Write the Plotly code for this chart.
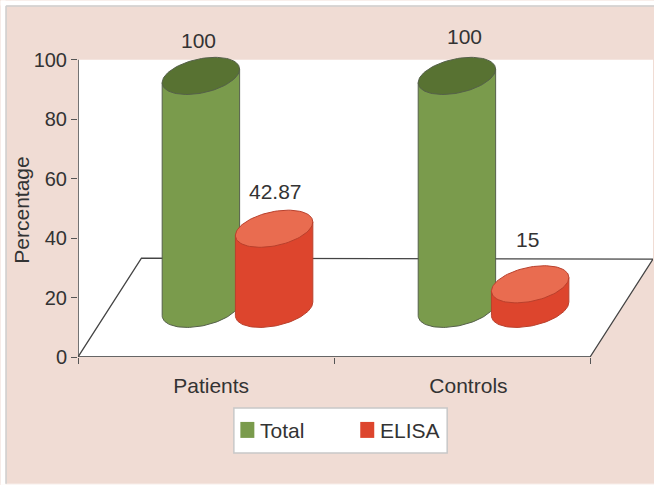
import numpy as np
import plotly.graph_objects as go

# Chart data
categories = ["Patients", "Controls"]
total = [100, 100]
elisa = [42.87, 15]
y_ticks = [0, 20, 40, 60, 80, 100]
series_names = ["Total", "ELISA"]

# Canvas and plot box, in pixels
W, H = 654, 485
LEFT, RIGHT, TOP, BOTTOM = 77.5, 653.0, 59.5, 357.0
PX_PER_X = 256.25                # one category slot along the front edge
PX_PER_Y = (BOTTOM - TOP) / 100  # one percentage point
HEADROOM = 5                     # axis units kept above 100 for the cylinder lids
PLOT_TOP = TOP - HEADROOM * PX_PER_Y

PINK = "#f0dcd4"
TEXT = "#333333"
FONT = "Liberation Sans"
GREEN, GREEN_TOP, GREEN_EDGE = "#7a9b4c", "#587232", "#55604a"
RED, RED_TOP, RED_EDGE = "#dd452d", "#e96c50", "#b9402c"

# Oblique projection of the cylinders, in axis units
HALF_W = 38.75 / PX_PER_X
ELL_B = 17.3 / PX_PER_Y
ELL_K = 6.8 / PX_PER_Y
FLOOR_LEVEL = 16.2
OFFSET = {"Total": 0.48, "ELISA": 0.766}
PROJECT = {"Total": (0.0, 0.784), "ELISA": (14.4, 0.671)}  # intercept, slope
STYLE = {"Total": (GREEN, GREEN_TOP, GREEN_EDGE), "ELISA": (RED, RED_TOP, RED_EDGE)}


def px_x(px):
    return (px - LEFT) / (RIGHT - LEFT)


def px_y(py):
    return (BOTTOM - py) / (BOTTOM - PLOT_TOP)


def ellipse(cx, cy, t):
    return cx + HALF_W * np.cos(t), cy + ELL_K * np.cos(t) + ELL_B * np.sin(t)


def top_level(name, value):
    intercept, slope = PROJECT[name]
    if intercept:
        return intercept + slope * value
    return FLOOR_LEVEL + slope * value


def add_cylinder(fig, name, slot, value):
    body, lid, edge = STYLE[name]
    cx = slot + OFFSET[name]
    cy = top_level(name, value)
    # front half of the base ellipse, right extreme round to the left one
    bx, by = ellipse(cx, FLOOR_LEVEL, np.linspace(0, -np.pi, 60))
    tx, ty = ellipse(cx, cy, np.array([-np.pi, 0.0]))
    fig.add_trace(go.Scatter(
        x=np.concatenate([bx, tx, bx[:1]]), y=np.concatenate([by, ty, by[:1]]),
        mode="lines", fill="toself", fillcolor=body, line=dict(color=edge, width=1),
        showlegend=False, hoverinfo="skip"))
    ex, ey = ellipse(cx, cy, np.linspace(0, 2 * np.pi, 90))
    fig.add_trace(go.Scatter(
        x=ex, y=ey, mode="lines", fill="toself", fillcolor=lid,
        line=dict(color=edge, width=1),
        showlegend=False, hoverinfo="skip"))


fig = go.Figure()

x_end = (RIGHT - LEFT) / PX_PER_X
back_x = (141 - LEFT) / PX_PER_X
back_y = (BOTTOM - 258) / PX_PER_Y
back_y_right = (BOTTOM - 259) / PX_PER_Y

# Pink wedge outside the slanted right edge of the floor
fig.add_trace(go.Scatter(
    x=[2, x_end, x_end, 2], y=[0, back_y_right, 0, 0], mode="lines", fill="toself",
    fillcolor=PINK, line=dict(width=0), showlegend=False, hoverinfo="skip"))

# Floor outline, front edge and value axis line
fig.add_trace(go.Scatter(
    x=[0, back_x, x_end, 2], y=[0, back_y, back_y_right, 0], mode="lines",
    line=dict(color="#444444", width=1.3), showlegend=False, hoverinfo="skip"))
fig.add_trace(go.Scatter(
    x=[0, 2], y=[0, 0], mode="lines", line=dict(color="#666666", width=1.8),
    showlegend=False, hoverinfo="skip", cliponaxis=False))
fig.add_trace(go.Scatter(
    x=[0, 0], y=[0, 100], mode="lines", line=dict(color="#444444", width=1.5),
    showlegend=False, hoverinfo="skip", cliponaxis=False))

for slot in range(len(categories)):
    add_cylinder(fig, "Total", slot, total[slot])
    add_cylinder(fig, "ELISA", slot, elisa[slot])

# Value labels above each cylinder
label_shift = {("Total", 0): (-2, 35), ("Total", 1): (8, 39),
               ("ELISA", 0): (1, 37), ("ELISA", 1): (-3, 45)}
annotations = []
for name, values in (("Total", total), ("ELISA", elisa)):
    for slot, value in enumerate(values):
        dx, dy = label_shift[(name, slot)]
        annotations.append(dict(
            x=slot + OFFSET[name], y=top_level(name, value), xref="x", yref="y",
            text=str(value), showarrow=False, xshift=dx, yshift=dy,
            font=dict(family=FONT, size=21, color=TEXT)))

# Value axis title
annotations.append(dict(
    x=px_x(21), y=px_y(210), xref="paper", yref="paper", text="Percentage",
    textangle=-90, xanchor="center", yanchor="middle", showarrow=False,
    font=dict(family=FONT, size=21, color=TEXT)))

shapes = [
    # white page margin and its thin grey frame
    dict(type="rect", xref="paper", yref="paper", x0=px_x(0), x1=px_x(W),
         y0=px_y(0), y1=px_y(5), fillcolor="white", line=dict(width=0), layer="below"),
    dict(type="rect", xref="paper", yref="paper", x0=px_x(0), x1=px_x(5),
         y0=px_y(0), y1=px_y(H), fillcolor="white", line=dict(width=0), layer="below"),
    dict(type="rect", xref="paper", yref="paper", x0=px_x(0), x1=px_x(W),
         y0=px_y(484), y1=px_y(H), fillcolor="white", line=dict(width=0), layer="below"),
    dict(type="line", xref="paper", yref="paper", x0=px_x(5.5), x1=px_x(W),
         y0=px_y(5.5), y1=px_y(5.5), line=dict(color="#cfcfcf", width=1.5), layer="below"),
    dict(type="line", xref="paper", yref="paper", x0=px_x(5.5), x1=px_x(5.5),
         y0=px_y(5.5), y1=px_y(484), line=dict(color="#cfcfcf", width=1.5), layer="below"),
    # white back wall and floor of the plot
    dict(type="rect", xref="x", yref="y", x0=0, x1=x_end, y0=0, y1=100,
         fillcolor="white", line=dict(width=0), layer="below"),
    # legend box
    dict(type="rect", xref="paper", yref="paper", x0=px_x(233.5), x1=px_x(447),
         y0=px_y(408), y1=px_y(453), fillcolor="white",
         line=dict(color="#c8c8c8", width=1.5), layer="below"),
]

# Legend entries: colour swatch and series name
for name, colour, swatch_left, text_left in zip(series_names, (GREEN, RED), (240, 360), (259, 379)):
    shapes.append(dict(type="rect", xref="paper", yref="paper",
                       x0=px_x(swatch_left), x1=px_x(swatch_left + 14),
                       y0=px_y(422), y1=px_y(438), fillcolor=colour,
                       line=dict(width=0), layer="above"))
    annotations.append(dict(
        x=px_x(text_left), y=px_y(431), xref="paper", yref="paper", text=name,
        xanchor="left", yanchor="middle", xshift=-1, showarrow=False,
        font=dict(family=FONT, size=21, color=TEXT)))

fig.update_layout(
    width=W, height=H, autosize=False, showlegend=False,
    margin=dict(l=LEFT, r=W - RIGHT, t=PLOT_TOP, b=H - BOTTOM),
    paper_bgcolor=PINK, plot_bgcolor="rgba(0,0,0,0)",
    font=dict(family=FONT, size=20, color=TEXT),
    shapes=shapes, annotations=annotations,
    xaxis=dict(
        range=[0, x_end], showgrid=False, zeroline=False, showline=False,
        tickmode="array",
        tickvals=[0.52, 1.525], ticktext=categories,
        ticks="", ticklabelstandoff=14,
        minor=dict(tickmode="array", tickvals=[0, 1, 2], ticks="outside", ticklen=6,
                   tickcolor="#555555", tickwidth=1.3, showgrid=False),
        tickfont=dict(family=FONT, size=21, color=TEXT)),
    yaxis=dict(
        range=[0, 100 + HEADROOM], showgrid=False, zeroline=False, showline=False,
        tickmode="array", tickvals=y_ticks, ticks="outside", ticklen=6,
        tickcolor="#555555", tickwidth=1.3,
        tickfont=dict(family=FONT, size=20, color=TEXT)),
)

fig.write_html("out.html", config={"displayModeBar": False})
